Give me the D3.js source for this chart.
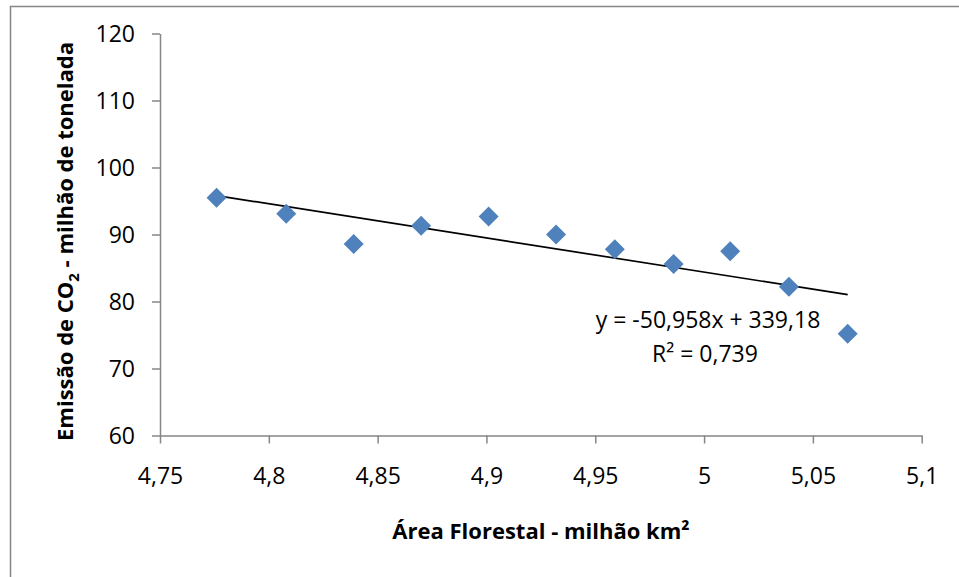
<!DOCTYPE html>
<html>
<head>
<meta charset="utf-8">
<script src="https://cdn.jsdelivr.net/npm/d3@7"></script>
<style>
  html, body { margin: 0; padding: 0; background: #fff; }
  svg { display: block; }
  text { font-family: "Open Sans", "Noto Sans", sans-serif; fill: #000; }
</style>
</head>
<body>
<svg id="chart" width="959" height="577"></svg>
<script>
// Forest area (million km²) vs CO2 emissions (million tonnes)
const forestArea = [4.776, 4.808, 4.839, 4.870, 4.901, 4.932, 4.959, 4.986, 5.012, 5.039, 5.066];
const co2Emission = [95.5, 93.1, 88.6, 91.3, 92.7, 90.0, 87.8, 85.6, 87.5, 82.2, 75.2];

const xTicks = [4.75, 4.8, 4.85, 4.9, 4.95, 5.0, 5.05, 5.1];
const xTickLabels = ["4,75", "4,8", "4,85", "4,9", "4,95", "5", "5,05", "5,1"];
const yTicks = [60, 70, 80, 90, 100, 110, 120];
const yTickLabels = ["60", "70", "80", "90", "100", "110", "120"];

// Linear trend shown on the chart
const trendSlope = -50.958;
const trendIntercept = 339.18;
const trendLabel = "y = -50,958x + 339,18";
const r2Label = "R² = 0,739";

const svg = d3.select("#chart");
const W = 959, H = 577;
const axisColor = "#868686";
const markerColor = "#4F81BD";

svg.append("rect").attr("width", W).attr("height", H).attr("fill", "#fff");

// Chart frame (top and left edges visible)
svg.append("path")
  .attr("d", `M10.5,${H} V6.5 H${W}`)
  .attr("fill", "none").attr("stroke", axisColor).attr("stroke-width", 1.5);

const x = d3.scaleLinear().domain([4.75, 5.1]).range([160, 921.7]);
const y = d3.scaleLinear().domain([60, 120]).range([435.5, 33.5]);

// Axes
const xAxis = d3.axisBottom(x)
  .tickValues(xTicks)
  .tickFormat((d, i) => xTickLabels[i])
  .tickSizeInner(8).tickSizeOuter(0).tickPadding(10);
const yAxis = d3.axisLeft(y)
  .tickValues(yTicks)
  .tickFormat((d, i) => yTickLabels[i])
  .tickSizeInner(8).tickSizeOuter(0).tickPadding(17);

const gx = svg.append("g").attr("transform", `translate(0,${y(60)})`).call(xAxis);
const gy = svg.append("g").attr("transform", `translate(${x(4.75)},0)`).call(yAxis);

[gx, gy].forEach(g => {
  g.select(".domain").attr("stroke", axisColor).attr("stroke-width", 1.5);
  g.selectAll(".tick line").attr("stroke", axisColor).attr("stroke-width", 1.5);
  g.selectAll(".tick text")
    .attr("fill", "#000")
    .style("font-family", '"Open Sans", sans-serif')
    .style("font-size", "23px");
});
gx.selectAll(".tick text").attr("dy", null).attr("y", 48.5);
gy.selectAll(".tick text").attr("dy", "0.36em");

// Trend line across the data range
const [xMin, xMax] = d3.extent(forestArea);
svg.append("line")
  .attr("x1", x(xMin)).attr("y1", y(trendSlope * xMin + trendIntercept))
  .attr("x2", x(xMax)).attr("y2", y(trendSlope * xMax + trendIntercept))
  .attr("stroke", "#000").attr("stroke-width", 1.7);

// Diamond markers
const diamond = d3.symbol().type(d3.symbolSquare).size(200);
svg.append("g").selectAll("path")
  .data(forestArea.map((d, i) => [d, co2Emission[i]]))
  .join("path")
  .attr("d", diamond)
  .attr("transform", d => `translate(${x(d[0])},${y(d[1])}) rotate(45)`)
  .attr("fill", markerColor);

// Equation labels
svg.append("text").attr("x", 708).attr("y", 328)
  .attr("text-anchor", "middle").style("font-size", "23px").text(trendLabel);
svg.append("text").attr("x", 705).attr("y", 362)
  .attr("text-anchor", "middle").style("font-size", "23px").text(r2Label);

// Axis titles
svg.append("text")
  .attr("x", 541).attr("y", 539)
  .attr("text-anchor", "middle")
  .style("font-size", "22px").style("font-weight", "bold")
  .text("Área Florestal - milhão km²");

const yt = svg.append("text")
  .attr("transform", "translate(73,241.5) rotate(-90)")
  .attr("text-anchor", "middle")
  .style("font-size", "22px").style("font-weight", "bold");
yt.append("tspan").text("Emissão de CO");
yt.append("tspan").attr("dy", 6).style("font-size", "15px").text("2");
yt.append("tspan").attr("dy", -6).text(" - milhão de tonelada");
</script>
</body>
</html>
